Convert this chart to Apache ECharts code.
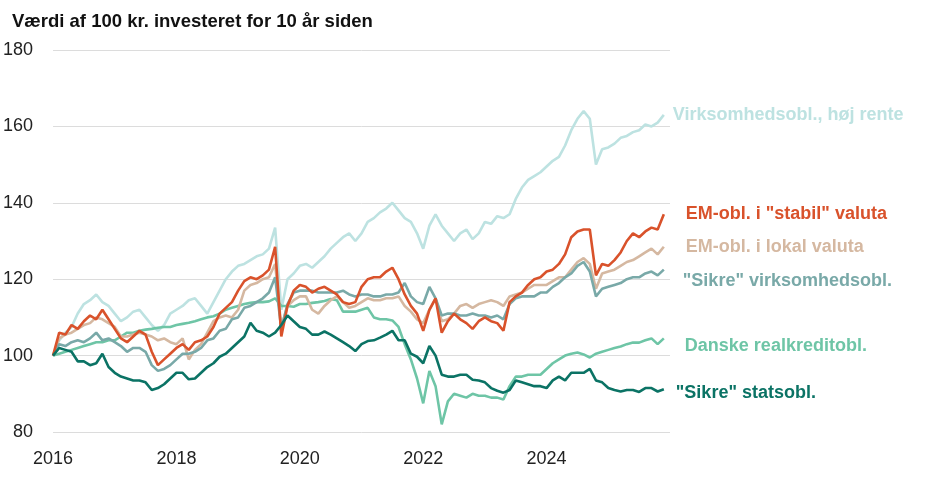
<!DOCTYPE html>
<html>
<head>
<meta charset="utf-8">
<script src="https://cdn.jsdelivr.net/npm/echarts@6/dist/echarts.min.js"></script>
<style>
  html, body { margin: 0; padding: 0; background: #fff; }
  #chart { width: 928px; height: 483px; }
</style>
</head>
<body>
<div id="chart"></div>
<script>
// x positions: one reading every 0.1 year, 2016.0 .. 2025.9
const years = Array.from({ length: 100 }, (_, i) => +(2016 + i / 10).toFixed(1))
const xTicks = [2016, 2018, 2020, 2022, 2024]

const hojRente = [
  100, 104, 106, 107.5, 111, 113.5, 114.5, 116, 114, 113,
  111, 109, 110, 111.5, 112, 110, 108, 106.5, 108, 111,
  112, 113, 114.5, 115, 113, 111, 114, 117, 120, 122,
  123.5, 124, 125, 126, 126.5, 128, 133.5, 112, 120, 121.5,
  123.5, 124, 123, 124.5, 126, 128, 129.5, 131, 132, 130,
  132, 135, 136, 137.5, 138.5, 140, 138, 136, 135, 132,
  128, 134, 137, 134, 132, 130, 132, 133, 130.5, 132,
  135, 134.5, 136.5, 136, 137, 141, 144, 146, 147, 148,
  149.5, 151, 152, 155, 159, 162, 164, 162, 150, 154,
  154.5, 155.5, 157, 157.5, 158.5, 159, 160.5, 160, 161, 163
]

const emStabil = [
  100, 106, 105.5, 108, 107, 109, 110.5, 109.5, 112, 109.5,
  107, 104.5, 103.5, 105, 106.5, 105.5, 101, 97.5, 99, 100.5,
  102, 103, 101.5, 103.5, 104, 105, 107.5, 111, 112.5, 114,
  117, 119.5, 120.5, 120, 121, 122.5, 128.5, 105, 113, 117,
  118.5, 118, 116.5, 117.5, 118, 117, 116, 114, 113.5, 114,
  118, 120, 120.5, 120.5, 122, 123, 120, 116, 113, 111,
  106.5, 112, 115, 106, 109, 111, 109.5, 108.5, 107, 109,
  110, 109, 108.5, 106.5, 114, 115.5, 116.5, 118.5, 120, 120.5,
  122, 122.5, 124, 126.5, 131, 132.5, 133, 133, 121, 124,
  123.5, 125, 127, 130, 132, 131, 132.5, 133.5, 133, 137
]

const emLokal = [
  100, 104.5, 105.5, 106, 107, 108, 108.5, 110, 109.5, 108.5,
  107.5, 105, 105, 105.5, 106, 105.5, 105, 104, 104.5, 103.5,
  103, 104.5, 99, 101.5, 103, 106, 109, 110, 110.5, 110,
  112, 117, 118.5, 119, 120, 120.5, 124, 107.5, 113, 114.5,
  115.5, 115.5, 112, 111, 113, 114.5, 115.5, 114, 112.5, 113,
  114, 115, 114.5, 114.5, 115, 115, 115.5, 113, 111.5, 109.5,
  108.5, 112, 115, 109, 109.5, 111, 113, 113.5, 112.5, 113.5,
  114, 114.5, 114, 113, 115.5, 116, 116.5, 117.5, 118.5, 118.5,
  118.5, 119.5, 120.5, 120.5, 122.5, 124.5, 125.5, 124, 117.5, 121.5,
  122, 122.5, 123.5, 124.5, 125, 126, 127, 128, 126.5, 128.5
]

const sikreVirk = [
  100, 103, 102.5, 103.5, 104, 103.5, 104.5, 106, 104, 104.5,
  103.5, 102.5, 101, 102, 102, 101, 97.5, 96, 96.5, 97.5,
  99, 100.5, 100.5, 101, 102, 104, 104.5, 106.5, 107, 109.5,
  110, 112.5, 113, 114, 115, 116.5, 120.5, 107, 113.5, 116.5,
  117, 117, 117, 116.5, 116.5, 116.5, 116.5, 117, 116, 115.5,
  116, 116, 115.5, 115.5, 116, 116, 116.5, 119, 115.5, 114,
  113.5, 118, 115, 110.5, 111, 111, 110.5, 110.5, 111, 110.5,
  110.5, 110, 110.5, 109.5, 113.5, 115, 115.5, 115.5, 115.5, 116.5,
  116.5, 118, 119, 120.5, 121.5, 123.5, 124.5, 122, 115.5, 117.5,
  118, 118.5, 119, 120, 120.5, 120.5, 121.5, 122, 121, 122.5
]

const realkredit = [
  100, 100.5, 101, 101.5, 102, 102.5, 103, 103.5, 103.5, 104,
  104, 105, 106, 106, 106.5, 106.8, 107, 107.3, 107.5, 107.5,
  108, 108.3, 108.6, 109, 109.5, 110, 110.3, 111, 112, 112.5,
  113, 113.5, 113.8, 114, 114, 114.2, 115, 113, 113, 112.8,
  113.5, 113.5, 113.8, 114, 114.3, 114.8, 114.5, 111.5, 111.5, 111.5,
  112, 112.5, 110, 109.5, 109.5, 109.2, 107.5, 103, 99, 94,
  87.5, 96, 92, 82, 88, 90, 89.5, 89, 90, 89.5,
  89.5, 89, 89, 88.5, 92, 94.5, 94.5, 95, 95, 95,
  96.5, 98, 99, 100, 100.5, 100.8, 100.3, 99.5, 100.5, 101,
  101.5, 102, 102.4, 103, 103.4, 103.4, 104, 104.5, 103, 104.5
]

const sikreStat = [
  100, 102, 101.5, 101, 98.5, 98.5, 97.5, 98, 100.5, 97,
  95.5, 94.5, 94, 93.5, 93.5, 93, 91, 91.5, 92.5, 94,
  95.5, 95.5, 93.8, 94, 95.5, 97, 98, 99.7, 100.5, 102,
  103.5, 105, 108.6, 106.5, 106, 105, 106, 108, 110.5, 109,
  107.5, 107, 105.5, 105.5, 106.3, 105.5, 104.5, 103.5, 102.5, 101.2,
  103, 103.8, 104, 104.7, 105.5, 106.5, 104, 104, 100.5, 99.7,
  98, 102.5, 100, 95, 94.5, 94.5, 95, 95, 93.7, 93.5,
  93, 91.5, 90.8, 90.3, 91, 93.5, 93, 92.5, 92, 92,
  91.5, 93.5, 94.5, 93.5, 95.5, 95.5, 95.5, 96.5, 93.5, 93,
  91.5, 91, 90.6, 91, 91, 90.5, 91.5, 91.5, 90.6, 91.2
]

const seriesDefs = [
  { name: 'Virksomhedsobl., høj rente', values: hojRente, color: '#bde2e1', offset: [9, 0] },
  { name: 'Danske realkreditobl.', values: realkredit, color: '#6ec5a6', offset: [21, 8] },
  { name: 'EM-obl. i lokal valuta', values: emLokal, color: '#d5b8a1', offset: [22, 0] },
  { name: '"Sikre" virksomhedsobl.', values: sikreVirk, color: '#79a9a8', offset: [19, 11] },
  { name: 'EM-obl. i "stabil" valuta', values: emStabil, color: '#d9522b', offset: [22, 0] },
  { name: '"Sikre" statsobl.', values: sikreStat, color: '#0b7365', offset: [12, 4] }
]

const chart = echarts.init(document.getElementById('chart'))

chart.setOption({
  animation: false,
  title: {
    text: 'Værdi af 100 kr. investeret for 10 år siden',
    left: 7,
    top: 7,
    textStyle: { fontFamily: 'Liberation Sans', fontSize: 18.5, fontWeight: 'bold', color: '#111' }
  },
  grid: { left: 53, right: 258, top: 50, bottom: 51 },
  xAxis: {
    type: 'value',
    min: 2016,
    max: 2026,
    interval: 2,
    axisLine: { show: false },
    axisTick: { show: false },
    splitLine: { show: false },
    axisLabel: {
      fontFamily: 'Liberation Sans',
      fontSize: 18,
      color: '#222',
      margin: 18,
      formatter: v => (xTicks.includes(v) ? String(v) : '')
    }
  },
  yAxis: {
    type: 'value',
    min: 80,
    max: 180,
    interval: 20,
    axisLine: { show: false },
    axisTick: { show: false },
    splitLine: { lineStyle: { color: '#dcdcdc', width: 1 } },
    axisLabel: { fontFamily: 'Liberation Sans', fontSize: 18, color: '#222', margin: 20 }
  },
  series: seriesDefs.map(s => ({
    name: s.name,
    type: 'line',
    data: years.map((y, i) => [y, s.values[i]]),
    showSymbol: false,
    color: s.color,
    lineStyle: { width: 2.6, color: s.color },
    endLabel: {
      show: true,
      formatter: '{a}',
      distance: 0,
      offset: s.offset,
      align: 'left',
      verticalAlign: 'middle',
      fontFamily: 'Liberation Sans',
      fontSize: 18,
      fontWeight: 'bold',
      color: s.color
    }
  }))
})
</script>
</body>
</html>
